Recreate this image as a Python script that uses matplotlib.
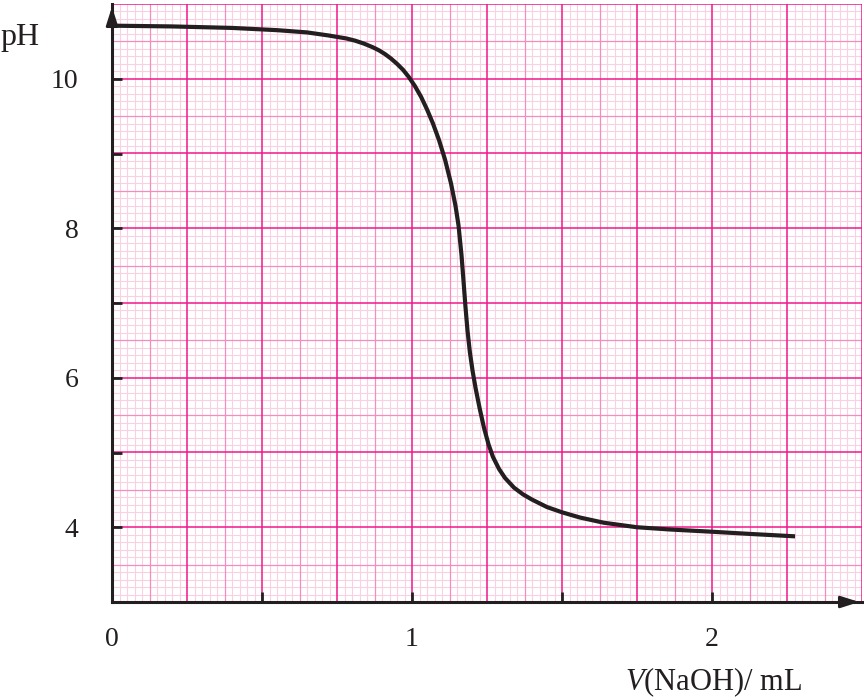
import numpy as np
import matplotlib
matplotlib.use("Agg")
import matplotlib.pyplot as plt

# Titration curve
vol = [0.00, 0.20, 0.40, 0.55, 0.65, 0.72, 0.78, 0.81, 0.84, 0.87, 0.89,
       0.91, 0.93, 0.95, 0.97, 0.99, 1.01, 1.03, 1.05, 1.07, 1.09, 1.11,
       1.13, 1.145, 1.155, 1.165, 1.172, 1.178, 1.185, 1.193, 1.202, 1.212,
       1.225, 1.240, 1.255, 1.270, 1.290, 1.310, 1.340, 1.370, 1.400, 1.450,
       1.500, 1.560, 1.640, 1.750, 1.860, 2.000, 2.130, 2.270]
ph = [10.71, 10.70, 10.68, 10.65, 10.62, 10.58, 10.54, 10.51, 10.47, 10.42, 10.38,
      10.33, 10.27, 10.20, 10.12, 10.02, 9.90, 9.76, 9.59, 9.40, 9.18, 8.92,
      8.60, 8.30, 8.04, 7.64, 7.28, 6.96, 6.63, 6.34, 6.09, 5.86,
      5.60, 5.33, 5.11, 4.94, 4.78, 4.66, 4.53, 4.44, 4.37, 4.27,
      4.20, 4.13, 4.06, 4.00, 3.97, 3.94, 3.91, 3.88]

xticks = [0, 0.5, 1, 1.5, 2]
xlabels = ["0", "", "1", "", "2"]
yticks = [4, 5, 6, 7, 8, 9, 10]
ylabels = ["4", "", "6", "", "8", "", "10"]

ink = "#231f20"
plt.rcParams["font.family"] = ["Liberation Serif", "DejaVu Serif"]
plt.rcParams["mathtext.fontset"] = "custom"
plt.rcParams["mathtext.rm"] = "Liberation Serif"
plt.rcParams["mathtext.it"] = "Liberation Serif:italic"

fig = plt.figure(figsize=(8.64, 7.0), dpi=100)
ax = fig.add_axes([112 / 864, 1 - 602 / 700, 750 / 864, 598 / 700])
ax.set_xlim(0, 2.5)
ax.set_ylim(3, 11)

# graph paper
def paper_style(k):
    if k % 10 == 0:
        return "#f0188a", 1.1, 0.3
    if k % 5 == 0:
        return "#f48cbe", 0.9, 0.2
    return "#fad0e3", 0.8, 0.1

for xv in np.arange(0, 2.5001, 0.025):
    c, lw, z = paper_style(int(round(xv / 0.025)))
    ax.axvline(xv, color=c, lw=lw, zorder=z)
for yv in np.arange(3, 11.0001, 0.1):
    c, lw, z = paper_style(int(round((yv - 3) / 0.1)))
    ax.axhline(yv, color=c, lw=lw, zorder=z)

ax.plot(vol, ph, color=ink, lw=3.0, solid_joinstyle="round", zorder=5)

for s in ["top", "right"]:
    ax.spines[s].set_visible(False)
for s in ["left", "bottom"]:
    ax.spines[s].set_color(ink)
    ax.spines[s].set_linewidth(2.2)
    ax.spines[s].set_zorder(6)

ax.set_xticks(xticks)
ax.set_xticklabels(xlabels)
ax.set_yticks(yticks)
ax.set_yticklabels(ylabels)
ax.tick_params(direction="in", length=7, width=2, color=ink, labelsize=20,
               labelcolor=ink)
ax.tick_params(axis="x", pad=18)
ax.tick_params(axis="y", pad=24)

# arrow heads on the axes
arrow = dict(arrowstyle="-|>,head_length=1.1,head_width=0.35", color=ink, lw=2)
ax.annotate("", xy=(1.0, 0), xytext=(0.97, 0), xycoords="axes fraction",
            arrowprops=arrow, annotation_clip=False, zorder=7)
ax.annotate("", xy=(0, 1.0), xytext=(0, 0.97), xycoords="axes fraction",
            arrowprops=arrow, annotation_clip=False, zorder=7)

fig.text(0.0, 1 - 38 / 700, "pH", fontsize=23, color=ink, ha="left", va="center")
fig.text(625 / 864, 1 - 682 / 700, "$\\it{V}$(NaOH)/ mL", fontsize=22, color=ink,
         ha="left", va="center")

fig.savefig("out.png", dpi=100)
